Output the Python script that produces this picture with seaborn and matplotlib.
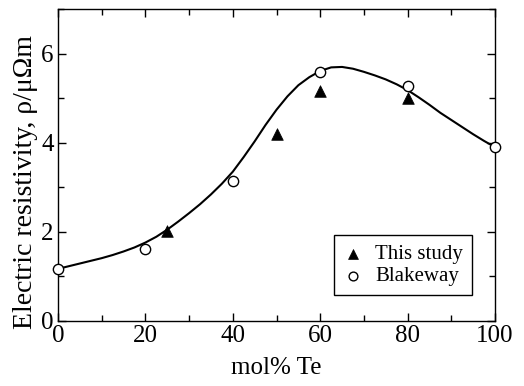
import numpy as np
import pandas as pd
import seaborn as sns
import matplotlib
matplotlib.use('Agg')
import matplotlib.pyplot as plt
from matplotlib.ticker import MultipleLocator

# measured points
study_x = [25, 50, 60, 80]
study_y = [2.02, 4.19, 5.17, 5.00]

blake_x = [0, 20, 40, 60, 80, 100]
blake_y = [1.16, 1.62, 3.15, 5.59, 5.28, 3.90]

# fitted curve
curve_x = [0, 2.5, 5, 7.5, 10, 12.5, 15, 17.5, 20, 22.5, 25, 27.5, 30, 32.5, 35,
           37.5, 40, 42.5, 45, 47.5, 50, 52.5, 55, 57.5, 60, 62.5, 65, 67.5, 70,
           72.5, 75, 77.5, 80, 82.5, 85, 87.5, 90, 92.5, 95, 97.5, 100]
curve_y = [1.17, 1.23, 1.29, 1.35, 1.41, 1.48, 1.56, 1.65, 1.76, 1.89, 2.05, 2.23,
           2.42, 2.62, 2.84, 3.08, 3.35, 3.68, 4.03, 4.40, 4.74, 5.04, 5.29, 5.47,
           5.61, 5.69, 5.70, 5.66, 5.59, 5.51, 5.42, 5.31, 5.18, 5.02, 4.85, 4.67,
           4.51, 4.35, 4.19, 4.04, 3.90]

sns.set_style('ticks')
plt.rcParams['font.family'] = ['Liberation Serif', 'DejaVu Serif']
plt.rcParams['text.color'] = 'black'
plt.rcParams['axes.labelcolor'] = 'black'
plt.rcParams['xtick.color'] = 'black'
plt.rcParams['ytick.color'] = 'black'

fig = plt.figure(figsize=(5.24, 3.86), dpi=100)
ax = fig.add_axes([0.1107, 0.1684, 0.834, 0.8083])

curve = pd.DataFrame({'x': curve_x, 'y': curve_y})
sns.lineplot(data=curve, x='x', y='y', ax=ax, color='black', linewidth=1.5,
             sort=False, estimator=None)

study = pd.DataFrame({'x': study_x, 'y': study_y})
blake = pd.DataFrame({'x': blake_x, 'y': blake_y})
sns.scatterplot(data=study, x='x', y='y', ax=ax, marker='^', s=70,
                color='black', edgecolor='black', linewidth=0.5,
                label='This study', zorder=3)
sns.scatterplot(data=blake, x='x', y='y', ax=ax, marker='o', s=55,
                facecolor='white', edgecolor='black', linewidth=1.0,
                label='Blakeway', zorder=4, clip_on=False)

ax.set_xlim(0, 100)
ax.set_ylim(0, 7)
ax.xaxis.set_major_locator(MultipleLocator(20))
ax.xaxis.set_minor_locator(MultipleLocator(10))
ax.yaxis.set_major_locator(MultipleLocator(2))
ax.yaxis.set_minor_locator(MultipleLocator(1))
ax.tick_params(which='both', direction='in', top=True, right=True,
               width=1.0, colors='black', labelsize=18)
ax.tick_params(which='major', length=6, pad=3)
ax.tick_params(which='minor', length=4)
for s in ax.spines.values():
    s.set_visible(True)
    s.set_linewidth(1.0)
    s.set_color('black')

ax.set_xlabel('mol% Te', fontsize=18, labelpad=7)
ax.set_ylabel('Electric resistivity, ρ/μΩm', fontsize=20)
ax.yaxis.set_label_coords(-0.046, 0.446)

leg = ax.legend(loc='lower right', bbox_to_anchor=(0.948, 0.082),
                borderaxespad=0, fontsize=15, frameon=True, fancybox=False,
                handletextpad=0.6, borderpad=0.45, labelspacing=0.1,
                handlelength=0.9, markerscale=0.85)
leg.get_frame().set_edgecolor('black')
leg.get_frame().set_linewidth(1.0)
leg.get_frame().set_alpha(1.0)

fig.savefig('out.png', dpi=100)
